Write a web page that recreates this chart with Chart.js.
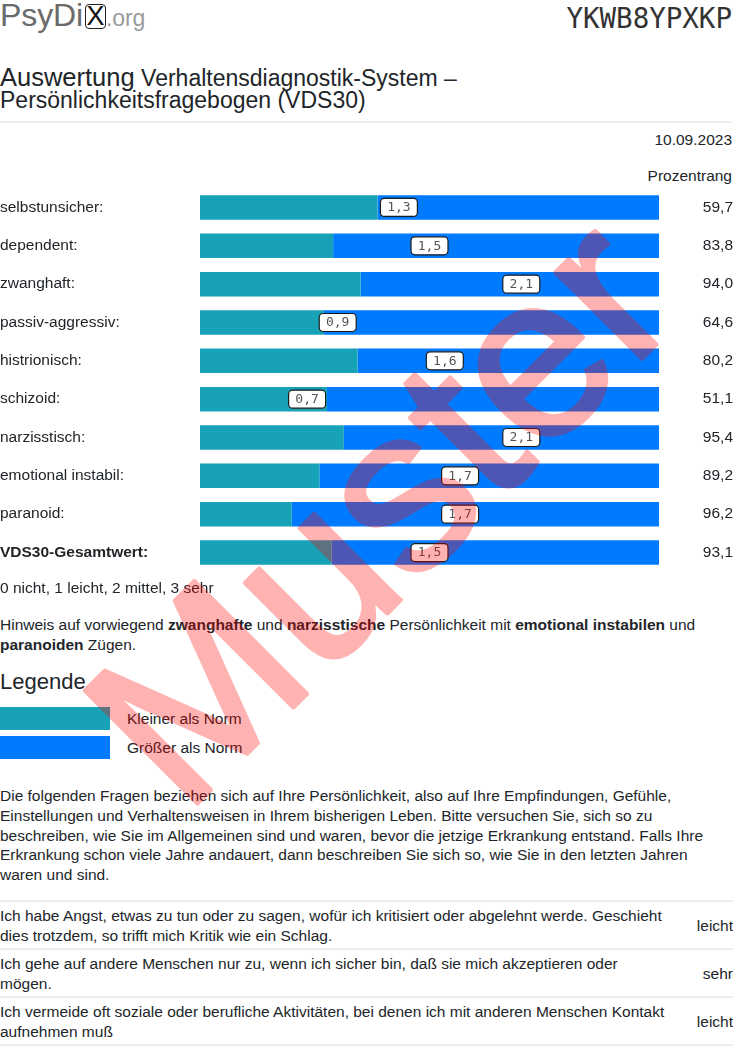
<!DOCTYPE html>
<html lang="de">
<head>
<meta charset="utf-8">
<title>Auswertung VDS30</title>
<script src="https://cdn.jsdelivr.net/npm/chart.js@4.4.0/dist/chart.umd.min.js"></script>
<style>
  html, body { margin: 0; padding: 0; background: #fff; }
  body {
    width: 733px; height: 1046px; position: relative; overflow: hidden;
    font-family: "Liberation Sans", Arial, sans-serif; font-size: 15.5px; color: #212529;
  }
  .blk { position: absolute; left: 0; right: 1px; }
  #logo { top: -4px; font-size: 32px; color: #6a6a6a; line-height: 38px; letter-spacing: -0.1px; }
  #logo .x {
    display: inline-block; color: #111; font-size: 27px; line-height: 23px; text-align: center;
    border: 1.5px solid #222; border-radius: 4px; width: 19px; margin-left: 2px; vertical-align: 1px;
  }
  #logo .org { font-size: 23px; color: #9a9a9a; }
  #code { top: 2px; text-align: right; font-family: "DejaVu Sans Mono", monospace; font-size: 27.5px; color: #333; }
  #title { top: 66px; font-size: 23px; line-height: 22px; }
  #title .big { font-size: 25.5px; }
  #rule { top: 121px; height: 2px; background: #eeeeee; }
  .right { text-align: right; line-height: 20px; }
  #date { top: 130px; }
  #prang { top: 166px; }
  #chartBox { position: absolute; left: 0; top: 179px; width: 733px; height: 402px; }
  #scale { top: 578px; line-height: 20px; }
  #hint { top: 615px; line-height: 20px; }
  #legTitle { top: 668px; font-size: 22px; line-height: 28px; }
  .sw { position: absolute; left: 0; width: 110px; height: 23px; }
  .swt { position: absolute; left: 127px; line-height: 23px; }
  #intro { top: 786px; line-height: 19.8px; width: 725px; }
  #items { position: absolute; left: 0; top: 900px; width: 733px; border-collapse: collapse; }
  #items td { border-top: 2px solid #eceeef; border-bottom: 2px solid #eceeef; padding: 4px 0 2px 0; line-height: 20px; vertical-align: middle; }
  #items td.q div { width: 668px; }
  #items td.a { text-align: right; }
  #wm { position: absolute; left: 0; top: 0; pointer-events: none; }
</style>
</head>
<body>

<div id="logo" class="blk">PsyDi<span class="x">X</span><span class="org">.org</span></div>
<div id="code" class="blk">YKWB8YPXKP</div>

<div id="title" class="blk"><span class="big">Auswertung</span> Verhaltensdiagnostik-System –<br>Persönlichkeitsfragebogen (VDS30)</div>
<div id="rule" class="blk"></div>

<div id="date" class="blk right">10.09.2023</div>
<div id="prang" class="blk right">Prozentrang</div>

<div id="chartBox"><canvas id="chart"></canvas></div>

<div id="scale" class="blk">0 nicht, 1 leicht, 2 mittel, 3 sehr</div>
<div id="hint" class="blk">Hinweis auf vorwiegend <b>zwanghafte</b> und <b>narzisstische</b> Persönlichkeit mit <b>emotional instabilen</b> und <b>paranoiden</b> Zügen.</div>

<div id="legTitle" class="blk">Legende</div>
<div id="sw1" class="sw" style="top:707px"></div>
<div class="swt" style="top:707px">Kleiner als Norm</div>
<div id="sw2" class="sw" style="top:736px"></div>
<div class="swt" style="top:736px">Größer als Norm</div>

<div id="intro" class="blk">Die folgenden Fragen beziehen sich auf Ihre Persönlichkeit, also auf Ihre Empfindungen, Gefühle, Einstellungen und Verhaltensweisen in Ihrem bisherigen Leben. Bitte versuchen Sie, sich so zu beschreiben, wie Sie im Allgemeinen sind und waren, bevor die jetzige Erkrankung entstand. Falls Ihre Erkrankung schon viele Jahre andauert, dann beschreiben Sie sich so, wie Sie in den letzten Jahren waren und sind.</div>

<table id="items">
  <tr><td class="q"><div>Ich habe Angst, etwas zu tun oder zu sagen, wofür ich kritisiert oder abgelehnt werde. Geschieht dies trotzdem, so trifft mich Kritik wie ein Schlag.</div></td><td class="a">leicht</td></tr>
  <tr><td class="q"><div>Ich gehe auf andere Menschen nur zu, wenn ich sicher bin, daß sie mich akzeptieren oder mögen.</div></td><td class="a">sehr</td></tr>
  <tr><td class="q"><div>Ich vermeide oft soziale oder berufliche Aktivitäten, bei denen ich mit anderen Menschen Kontakt aufnehmen muß</div></td><td class="a">leicht</td></tr>
</table>

<svg id="wm" width="733" height="1046">
  <g opacity="0.3">
    <text transform="translate(184,817) rotate(-45)" font-family="Liberation Sans" font-size="232" fill="#ff0000" stroke="#ff0000" stroke-width="4" stroke-linejoin="round">Muster</text>
  </g>
</svg>

<script>
// scales of the VDS30 personality part
const categories = ['selbstunsicher:', 'dependent:', 'zwanghaft:', 'passiv-aggressiv:', 'histrionisch:',
  'schizoid:', 'narzisstisch:', 'emotional instabil:', 'paranoid:', 'VDS30-Gesamtwert:'];
// where the teal part ends (norm), 0..3
const normValues = [1.16, 0.87, 1.05, 0.81, 1.03, 0.83, 0.94, 0.78, 0.60, 0.86];
// patient mean score, 0..3
const scoreValues = [1.3, 1.5, 2.1, 0.9, 1.6, 0.7, 2.1, 1.7, 1.7, 1.5];
const percentRanks = [59.7, 83.8, 94.0, 64.6, 80.2, 51.1, 95.4, 89.2, 96.2, 93.1];
const scaleMax = 3;

const TEAL = '#17a2b8';
const BLUE = '#007bff';
const TEXT = '#212529';

document.getElementById('sw1').style.background = TEAL;
document.getElementById('sw2').style.background = BLUE;

const fmt = v => v.toFixed(1).replace('.', ',');

// white boxes with the score value
const scoreBoxes = {
  id: 'scoreBoxes',
  afterDatasetsDraw(chart) {
    const ctx = chart.ctx;
    const x = chart.scales.x;
    const meta = chart.getDatasetMeta(0);
    ctx.save();
    ctx.font = '13px "DejaVu Sans Mono", monospace';
    ctx.textAlign = 'center';
    ctx.textBaseline = 'middle';
    scoreValues.forEach((v, i) => {
      const cx = x.getPixelForValue(v);
      const cy = meta.data[i].y;
      const w = 37, h = 18;
      ctx.beginPath();
      ctx.roundRect(cx - w / 2, cy - h / 2, w, h, 4);
      ctx.fillStyle = '#fff';
      ctx.fill();
      ctx.lineWidth = 1.2;
      ctx.strokeStyle = '#1a1a1a';
      ctx.stroke();
      ctx.fillStyle = '#555';
      ctx.fillText(fmt(v), cx, cy + 0.5);
    });
    ctx.restore();
  }
};

const tickFont = c => ({
  family: '"Liberation Sans", Arial, sans-serif',
  size: 15.5,
  weight: c.index === categories.length - 1 && c.scale.id === 'y' ? 'bold' : 'normal'
});

new Chart(document.getElementById('chart'), {
  type: 'bar',
  data: {
    labels: categories,
    datasets: [
      {
        label: 'Kleiner als Norm',
        data: normValues,
        backgroundColor: TEAL,
        borderWidth: 0,
        barPercentage: 0.64,
        categoryPercentage: 1
      },
      {
        label: 'Größer als Norm',
        data: normValues.map(n => scaleMax - n),
        backgroundColor: BLUE,
        borderWidth: 0,
        barPercentage: 0.64,
        categoryPercentage: 1
      }
    ]
  },
  options: {
    indexAxis: 'y',
    responsive: true,
    maintainAspectRatio: false,
    animation: false,
    layout: { padding: 0 },
    plugins: {
      legend: { display: false },
      tooltip: { enabled: false }
    },
    scales: {
      x: { stacked: true, min: 0, max: scaleMax, display: false },
      y: {
        stacked: true,
        position: 'left',
        grid: { display: false, drawTicks: false },
        border: { display: false },
        ticks: { crossAlign: 'far', padding: 0, color: TEXT, font: tickFont },
        afterFit: s => { s.width = 200; }
      },
      y2: {
        type: 'category',
        labels: percentRanks.map(fmt),
        position: 'right',
        offset: true,
        grid: { display: false, drawTicks: false },
        border: { display: false },
        ticks: { crossAlign: 'far', padding: 0, color: TEXT, font: tickFont },
        afterFit: s => { s.width = 74; }
      }
    }
  },
  plugins: [scoreBoxes]
});
</script>
</body>
</html>
